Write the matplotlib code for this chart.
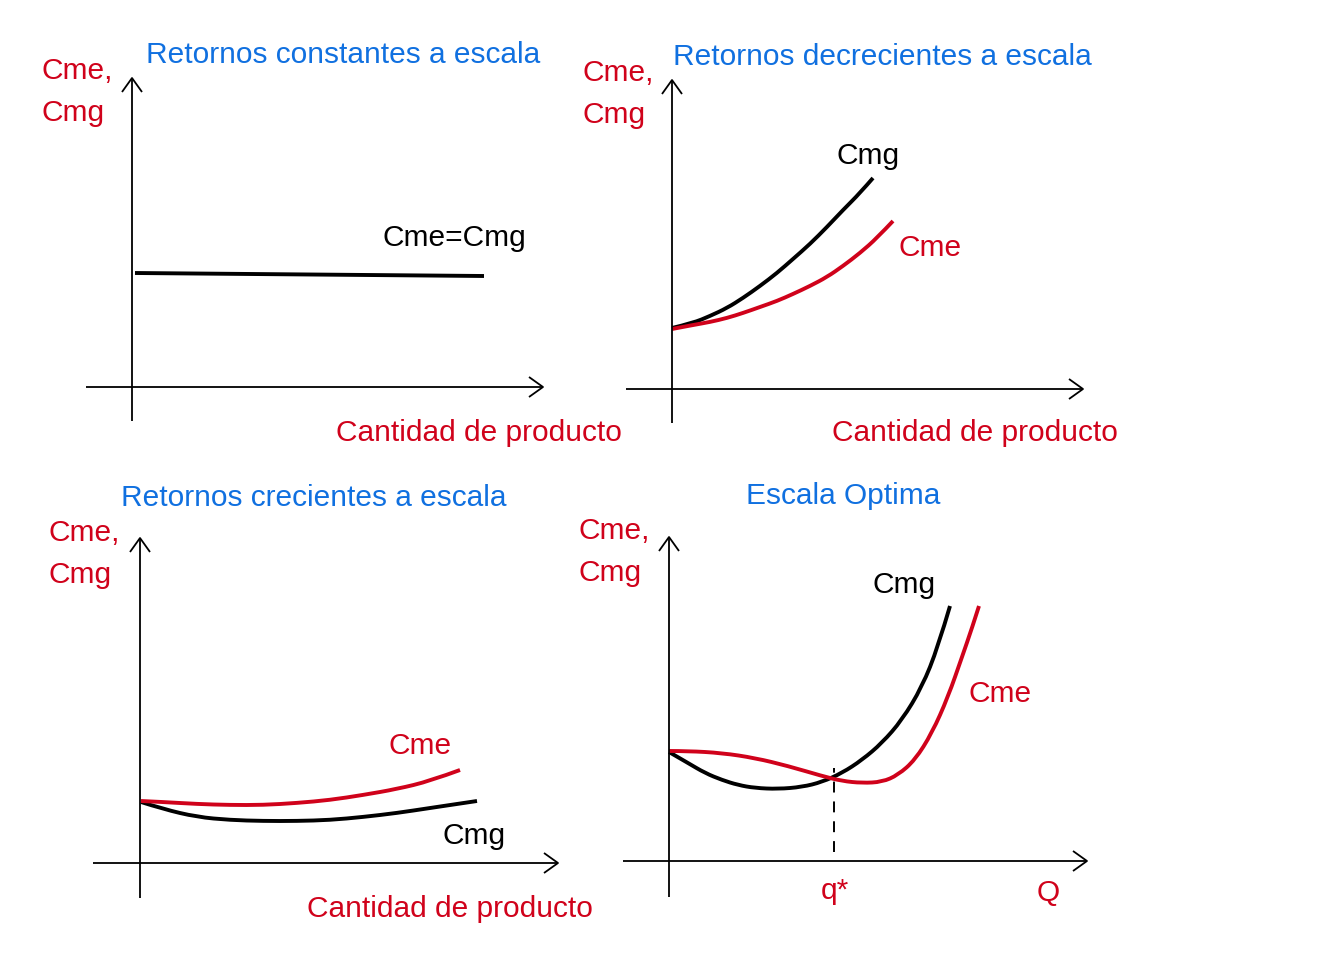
#!/usr/bin/env python3
"""
Curvas de costo medio (Cme) y costo marginal (Cmg) según retornos a escala.

Cuatro paneles: constantes, decrecientes, crecientes y escala óptima.
Unidades de los datos: Q y C en unidades arbitrarias (origen en el cruce de ejes).
"""

import matplotlib
matplotlib.use('Agg')
import matplotlib.pyplot as plt
from matplotlib.path import Path
from matplotlib.patches import PathPatch

plt.rcParams['font.family'] = ['Liberation Sans', 'DejaVu Sans']

ROJO = '#D0021B'
AZUL = '#1070E0'
NEGRO = '#000000'

W, H = 1324, 972

# --- Panel 1: retornos constantes ---
q_const = [0.3, 35.2]
c_const = [11.4, 11.1]

# --- Panel 2: retornos decrecientes ---
q_dec_cmg = [0.0, 2.1, 3.8, 5.5, 7.1, 8.8, 10.5, 12.1, 13.8, 15.5, 17.1, 18.8, 20.1]
c_dec_cmg = [6.1, 6.6, 7.3, 8.1, 9.1, 10.3, 11.6, 13.0, 14.5, 16.2, 17.9, 19.6, 21.1]
q_dec_cme = [0.0, 2.1, 3.8, 5.5, 7.1, 8.8, 10.5, 12.1, 13.8, 15.5, 17.1, 18.8, 20.5, 22.1]
c_dec_cme = [6.0, 6.4, 6.7, 7.1, 7.6, 8.2, 8.8, 9.5, 10.3, 11.2, 12.3, 13.6, 15.1, 16.8]

# --- Panel 3: retornos crecientes ---
q_cre_cme = [0.1, 2.3, 5.7, 9.0, 12.3, 15.7, 19.0, 22.3, 25.7, 29.0, 32.0]
c_cre_cme = [6.2, 6.1, 5.9, 5.8, 5.8, 6.0, 6.3, 6.8, 7.4, 8.2, 9.3]
q_cre_cmg = [0.1, 2.3, 5.7, 9.0, 12.3, 15.7, 19.0, 22.3, 25.7, 29.0, 33.7]
c_cre_cmg = [6.1, 5.4, 4.6, 4.3, 4.2, 4.2, 4.3, 4.6, 5.0, 5.5, 6.2]

# --- Panel 4: escala óptima ---
q_opt_cmg = [0.0, 1.9, 3.6, 5.3, 6.9, 8.6, 10.9, 13.3, 15.3, 17.3, 19.3, 21.3, 23.3, 25.3, 26.9, 28.1]
c_opt_cmg = [10.9, 9.8, 8.8, 8.1, 7.6, 7.3, 7.2, 7.4, 7.9, 8.8, 10.1, 11.8, 14.1, 17.4, 21.4, 25.5]
q_opt_cme = [0.0, 1.9, 5.3, 8.6, 11.9, 15.3, 17.3, 19.3, 21.3, 22.9, 24.6, 26.3, 27.9, 29.3, 30.3, 31.0]
c_opt_cme = [11.0, 11.0, 10.8, 10.3, 9.5, 8.5, 8.0, 7.8, 7.9, 8.6, 10.1, 12.8, 16.4, 20.4, 23.3, 25.5]
q_estrella = 16.5
c_estrella = [0.9, 9.3]


def panel_axes(fig, ox, oy):
    """Ejes transparentes con origen en el píxel (ox, oy); 1 unidad = 10 px"""
    ax = fig.add_axes([0, 0, 1, 1])
    ax.set_xlim(-ox / 10, (W - ox) / 10)
    ax.set_ylim((oy - H) / 10, oy / 10)
    ax.axis('off')
    return ax


def draw_axes(ax, x_min, x_max, y_min, y_max):
    """Ejes con flechas abiertas"""
    kw = dict(color=NEGRO, linewidth=1.3, solid_capstyle='butt')
    ax.plot([x_min, x_max], [0, 0], **kw)
    ax.plot([0, 0], [y_min, y_max], **kw)
    ax.plot([x_max - 1.4, x_max, x_max - 1.4], [1.0, 0, -1.0], **kw)
    ax.plot([-1.0, 0, 1.0], [y_max - 1.4, y_max, y_max - 1.4], **kw)


def curve(ax, q, c, color):
    """Curva suave: los puntos leídos actúan como controles de Bézier cuadráticas"""
    pts = list(zip(q, c))
    if len(pts) < 3:
        ax.plot(q, c, color=color, linewidth=2.8, solid_capstyle='butt')
        return
    verts = [pts[0]]
    codes = [Path.MOVETO]
    for i in range(1, len(pts) - 2):
        mid = ((pts[i][0] + pts[i + 1][0]) / 2, (pts[i][1] + pts[i + 1][1]) / 2)
        verts += [pts[i], mid]
        codes += [Path.CURVE3, Path.CURVE3]
    verts += [pts[-2], pts[-1]]
    codes += [Path.CURVE3, Path.CURVE3]
    ax.add_patch(PathPatch(Path(verts, codes), facecolor='none', edgecolor=color,
                           linewidth=2.8, capstyle='butt', joinstyle='round'))


def label(ax, x, y, s, color, ha='left'):
    ax.text(x, y - 0.3, s, color=color, fontsize=21.5, ha=ha, va='center')


def y_label(ax, x, y_top, y_bot):
    label(ax, x, y_top, 'Cme,', ROJO)
    label(ax, x, y_bot, 'Cmg', ROJO)


def plot_constantes(fig):
    ax = panel_axes(fig, 132, 387)
    draw_axes(ax, -4.6, 41.1, -3.4, 30.9)
    curve(ax, q_const, c_const, NEGRO)
    label(ax, 21.1, 33.5, 'Retornos constantes a escala', AZUL, ha='center')
    y_label(ax, -9.0, 31.9, 27.7)
    label(ax, 25.1, 15.2, 'Cme=Cmg', NEGRO)
    label(ax, 20.4, -4.3, 'Cantidad de producto', ROJO)


def plot_decrecientes(fig):
    ax = panel_axes(fig, 672, 389)
    draw_axes(ax, -4.6, 41.1, -3.4, 30.9)
    curve(ax, q_dec_cmg, c_dec_cmg, NEGRO)
    curve(ax, q_dec_cme, c_dec_cme, ROJO)
    label(ax, 21.05, 33.5, 'Retornos decrecientes a escala', AZUL, ha='center')
    y_label(ax, -9.0, 31.9, 27.7)
    label(ax, 16.5, 23.6, 'Cmg', NEGRO)
    label(ax, 22.7, 14.4, 'Cme', ROJO)
    label(ax, 16.0, -4.1, 'Cantidad de producto', ROJO)


def plot_crecientes(fig):
    ax = panel_axes(fig, 140, 863)
    draw_axes(ax, -4.7, 41.8, -3.5, 32.5)
    curve(ax, q_cre_cmg, c_cre_cmg, NEGRO)
    curve(ax, q_cre_cme, c_cre_cme, ROJO)
    label(ax, 17.4, 36.8, 'Retornos crecientes a escala', AZUL, ha='center')
    y_label(ax, -9.1, 33.3, 29.1)
    label(ax, 24.8, 12.0, 'Cme', ROJO)
    label(ax, 30.2, 3.0, 'Cmg', NEGRO)
    label(ax, 16.7, -4.3, 'Cantidad de producto', ROJO)


def plot_optima(fig):
    ax = panel_axes(fig, 669, 861)
    draw_axes(ax, -4.6, 41.8, -3.6, 32.4)
    ax.plot([q_estrella, q_estrella], c_estrella, color=NEGRO, linewidth=1.4,
            dashes=(5.6, 4.6))
    curve(ax, q_opt_cmg, c_opt_cmg, NEGRO)
    curve(ax, q_opt_cme, c_opt_cme, ROJO)
    label(ax, 17.45, 36.8, 'Escala Optima', AZUL, ha='center')
    y_label(ax, -9.1, 33.3, 29.1)
    label(ax, 20.3, 27.9, 'Cmg', NEGRO)
    label(ax, 29.9, 17.0, 'Cme', ROJO)
    label(ax, 16.6, -2.7, 'q*', ROJO, ha='center')
    label(ax, 36.8, -2.9, 'Q', ROJO)


def main():
    fig = plt.figure(figsize=(W / 100, H / 100), dpi=100)
    fig.patch.set_facecolor('white')
    plot_constantes(fig)
    plot_decrecientes(fig)
    plot_crecientes(fig)
    plot_optima(fig)
    fig.savefig('out.png', dpi=100)
    plt.close(fig)


if __name__ == "__main__":
    main()
